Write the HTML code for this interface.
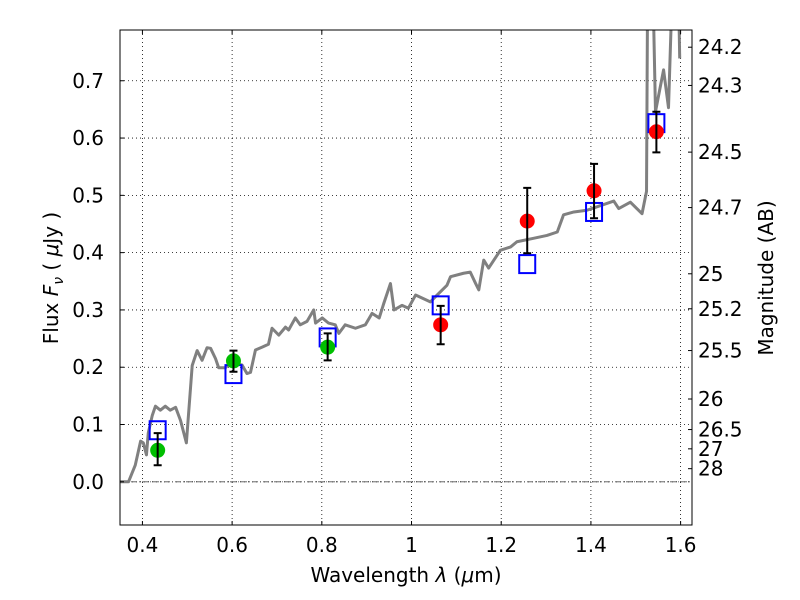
<!DOCTYPE html>
<html><head><meta charset="utf-8"><style>
body{margin:0;background:#fff}
svg{display:block;font-family:"DejaVu Sans","Liberation Sans",sans-serif}
</style></head><body>
<svg id="chart" width="800" height="600">
<rect width="800" height="600" fill="#fff"/>
<defs><clipPath id="clip"><rect x="120" y="30" width="572" height="495"/></clipPath></defs>
<g id="grid"></g>
<g id="plot" clip-path="url(#clip)"></g>
<rect x="120" y="30" width="572" height="495" fill="none" stroke="#000" stroke-width="1"/>
<g id="axes"></g>
<text x="406" y="582" font-size="20" text-anchor="middle">Wavelength  <tspan font-style="italic">λ</tspan> (<tspan font-style="italic">μ</tspan>m)</text>
<text transform="translate(58,278) rotate(-90)" font-size="20" text-anchor="middle">Flux  <tspan font-style="italic">F</tspan><tspan font-style="italic" font-size="14" dy="5">ν</tspan><tspan dy="-5">  ( </tspan><tspan font-style="italic">μ</tspan>Jy )</text>
<text transform="translate(773,278) rotate(-90)" font-size="20" text-anchor="middle">Magnitude (AB)</text>
</svg>
<script>
const xTicks=[0.4,0.6,0.8,1.0,1.2,1.4,1.6];
const xTickLabels=["0.4","0.6","0.8","1","1.2","1.4","1.6"];
const yTicks=[0.0,0.1,0.2,0.3,0.4,0.5,0.6,0.7];
const yTickLabels=["0.0","0.1","0.2","0.3","0.4","0.5","0.6","0.7"];
const magTicks=[24.2,24.3,24.5,24.7,25,25.2,25.5,26,26.5,27,28];
const specWl=[0.351,0.369,0.384,0.396,0.402,0.409,0.413,0.422,0.429,0.440,0.451,0.462,0.474,0.485,0.498,0.511,0.522,0.533,0.544,0.552,0.563,0.570,0.585,0.596,0.622,0.633,0.641,0.652,0.667,0.681,0.689,0.704,0.719,0.726,0.741,0.752,0.767,0.782,0.786,0.801,0.815,0.830,0.838,0.852,0.875,0.897,0.912,0.928,0.938,0.953,0.961,0.979,0.993,1.009,1.042,1.057,1.079,1.087,1.116,1.131,1.143,1.150,1.161,1.172,1.198,1.221,1.235,1.272,1.302,1.325,1.339,1.362,1.391,1.421,1.451,1.462,1.488,1.514,1.524,1.527,1.536,1.544,1.562,1.573,1.585,1.593,1.598];
const specFlux=[0,0,0.029,0.071,0.068,0.047,0.085,0.116,0.132,0.125,0.132,0.125,0.130,0.107,0.068,0.203,0.229,0.212,0.234,0.233,0.215,0.199,0.199,0.208,0.204,0.189,0.191,0.230,0.235,0.240,0.268,0.256,0.270,0.265,0.286,0.274,0.280,0.300,0.277,0.286,0.277,0.274,0.259,0.274,0.268,0.274,0.294,0.286,0.311,0.346,0.300,0.308,0.303,0.326,0.314,0.326,0.343,0.358,0.364,0.366,0.346,0.335,0.387,0.373,0.404,0.410,0.419,0.425,0.430,0.436,0.466,0.471,0.474,0.482,0.490,0.477,0.488,0.468,0.507,0.95,0.95,0.646,0.719,0.653,0.95,0.95,0.739];
const modelWl=[0.434,0.603,0.813,1.065,1.258,1.407,1.546];
const modelFlux=[0.090,0.188,0.252,0.308,0.380,0.471,0.626];
const greenWl=[0.434,0.603,0.813];
const greenFlux=[0.055,0.211,0.235];
const greenErrLo=[0.026,0.019,0.023];
const greenErrHi=[0.030,0.018,0.024];
const redWl=[1.065,1.258,1.407,1.546];
const redFlux=[0.274,0.455,0.508,0.611];
const redErrLo=[0.034,0.056,0.048,0.036];
const redErrHi=[0.033,0.058,0.047,0.035];

const X0=120,X1=692,Y0=525,Y1=30,xmin=0.35,xmax=1.6254,ymin=-0.0754,ymax=0.7886;
const sx=v=>X0+(v-xmin)/(xmax-xmin)*(X1-X0);
const sy=v=>Y0-(v-ymin)/(ymax-ymin)*(Y0-Y1);
const NS="http://www.w3.org/2000/svg";
function mk(tag,parent,attrs){const e=document.createElementNS(NS,tag);for(const k in attrs)e.setAttribute(k,attrs[k]);parent.appendChild(e);return e;}
const grid=document.getElementById('grid'),plot=document.getElementById('plot'),axes=document.getElementById('axes');

xTicks.forEach((t,i)=>{const x=sx(t);
 const g=mk('line',grid,{x1:x,x2:x,y1:Y1,y2:Y0,stroke:'#000','stroke-width':0.8,'stroke-dasharray':'1,3'});
 
 const a=mk('line',axes,{x1:x,x2:x,y1:Y0,y2:Y0-4,stroke:'#000'});
 const b=mk('line',axes,{x1:x,x2:x,y1:Y1,y2:Y1+4,stroke:'#000'});
 const l=mk('text',axes,{x:x,y:Y0+27,'font-size':20,'text-anchor':'middle'});l.textContent=xTickLabels[i];
 });
yTicks.forEach((t,i)=>{const y=sy(t);
 const g=mk('line',grid,{x1:X0,x2:X1,y1:y,y2:y,stroke:'#000','stroke-width':0.8,'stroke-dasharray':'1,3'});
 
 const a=mk('line',axes,{x1:X0,x2:X0+4,y1:y,y2:y,stroke:'#000'});
 const l=mk('text',axes,{x:X0-16,y:y+7,'font-size':20,'text-anchor':'end'});l.textContent=yTickLabels[i];
 });
magTicks.forEach(m=>{const f=Math.pow(10,(23.9-m)/2.5);const y=sy(f);
 const a=mk('line',axes,{x1:X1-4,x2:X1,y1:y,y2:y,stroke:'#000'});
 const l=mk('text',axes,{x:X1+6,y:y+7,'font-size':20});l.textContent=String(m);
 });

const zl=mk('line',plot,{x1:X0,x2:X1,y1:sy(0),y2:sy(0),stroke:'#555','stroke-width':0.8,'stroke-dasharray':'6,2,1,2'});

const sp=mk('polyline',plot,{points:specWl.map((w,i)=>sx(w)+','+sy(specFlux[i])).join(' '),fill:'none',stroke:'#808080','stroke-width':3,'stroke-linejoin':'round'});

modelWl.forEach((w,i)=>{const r=mk('rect',plot,{x:sx(w)-8,y:sy(modelFlux[i])-9,width:16,height:18,fill:'none',stroke:'#0000ff','stroke-width':2});
 });
function pts(wl,fl,lo,hi,col,name){wl.forEach((w,i)=>{const x=sx(w);
 const c=mk('circle',plot,{cx:x,cy:sy(fl[i]),r:7.5,fill:col});
 const yt=sy(fl[i]+hi[i]),yb=sy(fl[i]-lo[i]);
 const e=mk('path',plot,{d:`M${x},${yt}V${yb}M${x-4},${yt}H${x+4}M${x-4},${yb}H${x+4}`,stroke:'#000','stroke-width':2,fill:'none'});
 });}
pts(greenWl,greenFlux,greenErrLo,greenErrHi,'#00bf00','hst-photometry-point');
pts(redWl,redFlux,redErrLo,redErrHi,'#ff0000','ir-photometry-point');
</script>
</body></html>
